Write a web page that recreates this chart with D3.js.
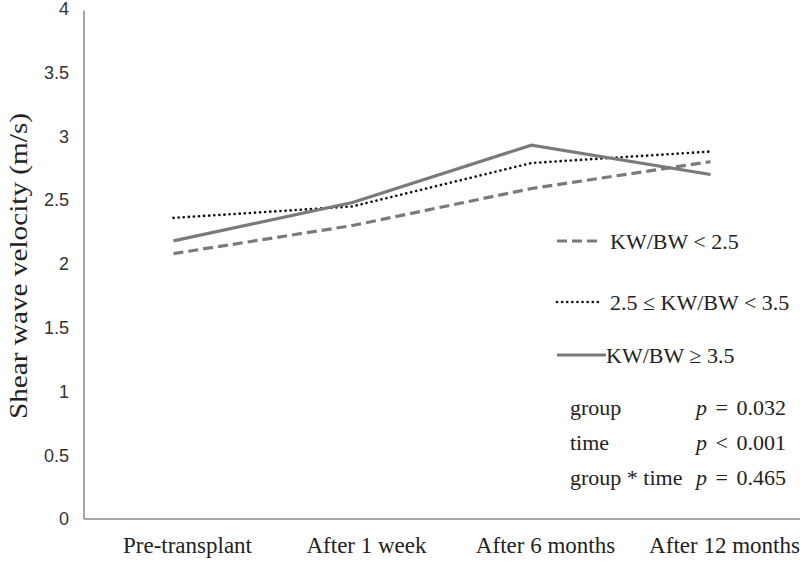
<!DOCTYPE html>
<html>
<head>
<meta charset="utf-8">
<style>
  body { margin: 0; background: #fff; }
  svg text { fill: #222; }
  .tick-y { font-family: 'Liberation Sans', Arial, sans-serif; font-size: 18px; fill: #333; }
  .serif { font-family: 'Liberation Serif', 'Times New Roman', serif; }
</style>
</head>
<body>
<div id="chart"></div>
<script src="https://d3js.org/d3.v7.min.js"></script>
<script>
const categories = ['Pre-transplant', 'After 1 week', 'After 6 months', 'After 12 months'];
const lowGroup = [2.08, 2.30, 2.59, 2.80];
const midGroup = [2.36, 2.45, 2.79, 2.88];
const highGroup = [2.18, 2.48, 2.93, 2.70];
const yTicks = [0, 0.5, 1, 1.5, 2, 2.5, 3, 3.5, 4];
const stats = [['group', '= 0.032'], ['time', '< 0.001'], ['group * time', '= 0.465']];

const series = [
  { name: 'KW/BW < 2.5', values: lowGroup, color: '#7a7a7a', width: 3.2, dash: '10,5', cap: 'butt' },
  { name: '2.5 \u2264 KW/BW < 3.5', values: midGroup, color: '#111', width: 2.6, dash: '0.1,5', cap: 'round' },
  { name: 'KW/BW \u2265 3.5', values: highGroup, color: '#7a7a7a', width: 3.2, dash: null, cap: 'butt' }
];

const width = 800, height = 567;
const plotL = 84, plotR = 800, plotT = 8.6, plotB = 519;

const svg = d3.select('#chart').append('svg')
    .attr('width', width)
    .attr('height', height);

const x = d3.scaleBand().domain(categories).range([plotL, plotR]);
const y = d3.scaleLinear().domain([0, 4]).range([plotB, plotT]);

// axes lines
svg.append('line')
    .attr('x1', plotL).attr('x2', plotL)
    .attr('y1', y(4) + 2).attr('y2', plotB)
    .attr('stroke', '#8a8a8a').attr('stroke-width', 1.5);
svg.append('line')
    .attr('x1', plotL).attr('x2', plotR)
    .attr('y1', plotB).attr('y2', plotB)
    .attr('stroke', '#8a8a8a').attr('stroke-width', 1.5);

// y tick labels
svg.selectAll('text.tick-y')
    .data(yTicks)
    .join('text')
    .attr('class', 'tick-y')
    .attr('x', 69)
    .attr('y', d => y(d))
    .attr('dy', '0.35em')
    .attr('text-anchor', 'end')
    .text(d => d);

// category labels
svg.selectAll('text.cat')
    .data(categories)
    .join('text')
    .attr('class', 'cat serif')
    .attr('x', d => x(d) + x.bandwidth() / 2 + 14)
    .attr('y', 553)
    .attr('text-anchor', 'middle')
    .style('font-size', '23px')
    .text(d => d);

// y title
svg.append('text')
    .attr('class', 'serif')
    .attr('transform', `translate(27,266) rotate(-90)`)
    .attr('text-anchor', 'middle')
    .attr('textLength', 306)
    .attr('lengthAdjust', 'spacingAndGlyphs')
    .style('font-size', '25px')
    .text('Shear wave velocity (m/s)');

const line = d3.line()
    .x((d, i) => x(categories[i]) + x.bandwidth() / 2)
    .y(d => y(d));

svg.selectAll('path.series')
    .data(series)
    .join('path')
    .attr('class', 'series')
    .attr('fill', 'none')
    .attr('stroke', d => d.color)
    .attr('stroke-width', d => d.width)
    .attr('stroke-dasharray', d => d.dash)
    .attr('stroke-linecap', d => d.cap)
    .attr('d', d => line(d.values));

// legend
const legY = [241, 302, 355];
const leg = svg.selectAll('g.leg')
    .data(series)
    .join('g')
    .attr('class', 'leg')
    .attr('transform', (d, i) => `translate(557,${legY[i]})`);

leg.append('line')
    .attr('x1', 0).attr('x2', (d, i) => i === 2 ? 49 : 43)
    .attr('y1', 0).attr('y2', 0)
    .attr('stroke', d => d.color)
    .attr('stroke-width', d => d.width)
    .attr('stroke-dasharray', d => d.dash)
    .attr('stroke-linecap', d => d.cap);

leg.append('text')
    .attr('class', 'serif')
    .attr('x', (d, i) => i === 2 ? 49 : 53)
    .attr('dy', '0.35em')
    .style('font-size', '22px')
    .text(d => d.name);

// stats
const statY = [407, 442, 477];
stats.forEach((s, i) => {
  svg.append('text')
      .attr('class', 'serif')
      .attr('x', 570).attr('y', statY[i])
      .attr('dy', '0.35em')
      .style('font-size', '22px')
      .text(s[0]);
  const t = svg.append('text')
      .attr('class', 'serif')
      .attr('x', 696).attr('y', statY[i])
      .attr('dy', '0.35em')
      .style('font-size', '22px')
      .style('word-spacing', '3px');
  t.append('tspan').style('font-style', 'italic').text('p');
  t.append('tspan').text(' ' + s[1]);
});
</script>
</body>
</html>
